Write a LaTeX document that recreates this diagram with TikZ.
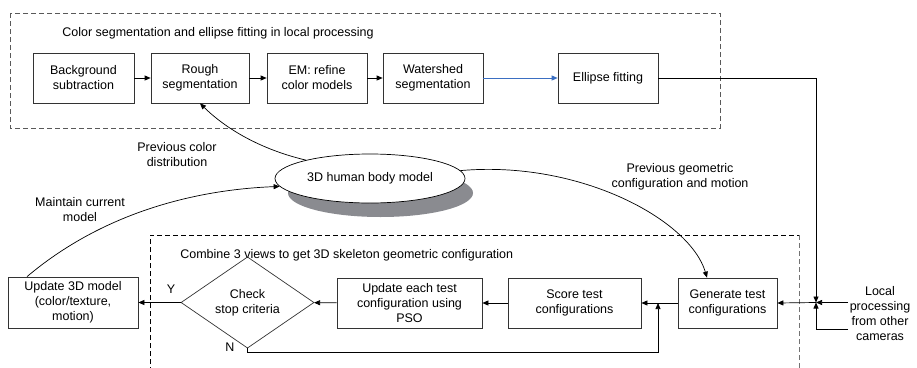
\documentclass[tikz,border=0pt]{standalone}
\usepackage{fontspec}
\setmainfont{Liberation Sans}
\usetikzlibrary{shapes.geometric,arrows.meta}
\definecolor{edge}{HTML}{333333}
\definecolor{shade}{HTML}{8A8B90}
\definecolor{flowblue}{HTML}{3B6FC2}
\begin{document}
\begin{tikzpicture}[x=1pt,y=-1pt,line width=0.7pt,
  font=\fontsize{12.5}{15}\selectfont,
  box/.style={draw=edge,rectangle,align=center,minimum height=50,inner sep=2pt},
  lbl/.style={align=center,inner sep=0pt},
  arr/.style={-{Triangle[length=6pt,width=5pt]}},
  frame/.style={dash pattern=on 5pt off 3pt}]
\clip (0,0) rectangle (917,367);

% dashed groups
\draw[frame,draw=black!65] (10,13) rectangle (720,128);
\draw[frame] (150,380) -- (150,235) -- (799,235);
\draw[frame,draw=black!55] (799,235) -- (799,380);
\node[lbl,anchor=west] (t1) at (62,33) {Color segmentation and ellipse fitting in local processing};
\node[lbl,anchor=west] (t2) at (180,255) {Combine 3 views to get 3D skeleton geometric configuration};

% local processing chain
\node[box,minimum width=101] (bg) at (83.5,78) {Background\\subtraction};
\node[box,minimum width=98] (rough) at (200,78) {Rough\\segmentation};
\node[box,minimum width=100] (em) at (317,78) {EM: refine\\color models};
\node[box,minimum width=100] (ws) at (433,78) {Watershed\\segmentation};
\node[box,minimum width=100] (fit) at (608,78) {Ellipse fitting};
\draw[arr] (bg) -- (rough);
\draw[arr] (rough) -- (em);
\draw[arr] (em) -- (ws);
\draw[arr,draw=flowblue] (ws) -- (fit);

% body model with its shadow
\node[ellipse,fill=shade,minimum width=185,minimum height=48] (hbshadow) at (380.5,193) {};
\node[ellipse,draw=black,fill=white,minimum width=190,minimum height=49] (hb) at (370,178.5) {3D human body model};

% skeleton estimation loop
\node[box,minimum width=130,minimum height=51] (upd) at (73,302.5) {Update 3D model\\(color/texture,\\motion)};
\node[diamond,draw=edge,align=center,inner sep=0pt,minimum width=133,minimum height=67] (chk) at (247.5,302.5) {Check\\stop criteria};
\node[box,minimum width=145] (pso) at (409.5,303) {Update each test\\configuration using\\PSO};
\node[box,minimum width=133] (score) at (574.5,303) {Score test\\configurations};
\node[box,minimum width=99] (gen) at (727.5,303) {Generate test\\configurations};

\draw[arr] (gen) -- (score);
\draw[arr] (score) -- (pso);
\draw[arr] (pso) -- (chk);
\draw[arr] (chk) -- (upd);
\node[lbl] (ylab) at (171,289) {Y};
\node[lbl] (nlab) at (230,347) {N};
\coordinate (loopin) at (658,303);
\draw[arr] (chk.south) |- (658,352) -- (loopin);

% inputs from the cameras
\coordinate (J) at (816,302.5);
\coordinate (camtop) at (848,302.5);
\coordinate (cambot) at (848,329);
\draw[arr] (fit.east) -| (J);
\draw[arr] (camtop) -- (J);
\draw[arr] (cambot) -| (J);
\draw[arr] (J) -- (gen.east);
\node[lbl] (cams) at (880,314) {Local\\processing\\from other\\cameras};

% model feedback curves
\draw[arr] (hb.164) .. controls (255,148) and (222,125) .. (rough.south);
\node[lbl] (pcd) at (177,155) {Previous color\\distribution};
\draw[arr] (hb.5) .. controls (580,160) and (690,220) .. (gen.north -| 707,0);
\node[lbl] (pgc) at (680,177) {Previous geometric\\configuration and motion};
\draw[arr] (upd.north -| 27,0) .. controls (100,215) and (190,190) .. (hb.185);
\node[lbl] (mcm) at (80,210) {Maintain current\\model};
\end{tikzpicture}
\end{document}
